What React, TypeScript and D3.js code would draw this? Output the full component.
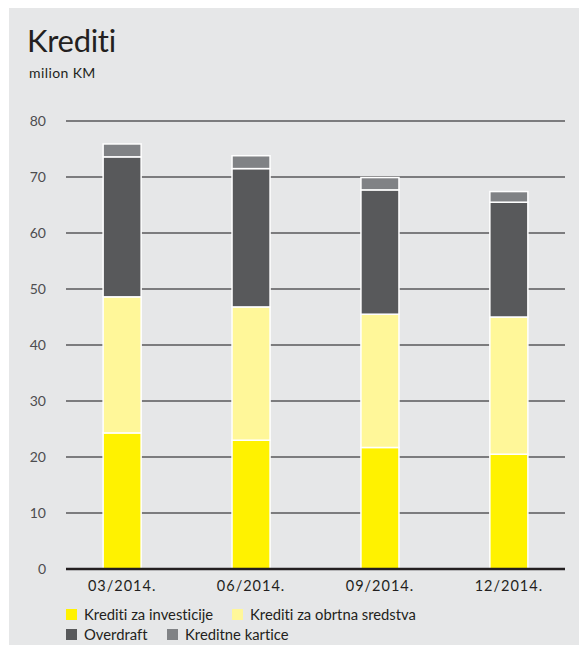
import React from "react";
import * as d3 from "d3";

const periods = ["03/2014.", "06/2014.", "09/2014.", "12/2014."];
const investicije = [24.3, 23.0, 21.7, 20.5];
const obrtnaSredstva = [24.3, 23.8, 23.8, 24.5];
const overdraft = [25.0, 24.7, 22.2, 20.5];
const kartice = [2.3, 2.3, 2.2, 1.9];
const yTicks = [0, 10, 20, 30, 40, 50, 60, 70, 80];

const seriesNames = [
  "Krediti za investicije",
  "Krediti za obrtna sredstva",
  "Overdraft",
  "Kreditne kartice",
];
const colors = ["#fff200", "#fff799", "#58595b", "#808285"];

const W = 579;
const H = 645;
const font = "Lato, 'Open Sans', sans-serif";

export default function App() {
  const rows = periods.map((p, i) => ({
    period: p,
    s0: investicije[i],
    s1: obrtnaSredstva[i],
    s2: overdraft[i],
    s3: kartice[i],
  }));
  const stack = d3.stack<any>().keys(["s0", "s1", "s2", "s3"])(rows);

  const x = d3
    .scaleBand()
    .domain(periods)
    .range([58, 573])
    .paddingInner(0.705)
    .paddingOuter(0.35);
  const y = d3.scaleLinear().domain([0, 80]).range([569, 121]);

  const gridX0 = 66;
  const gridX1 = 565;

  // legend layout: two rows
  const legend = [
    { i: 0, x: 66, y: 609 },
    { i: 1, x: 232, y: 609 },
    { i: 2, x: 66, y: 629 },
    { i: 3, x: 167, y: 629 },
  ];

  return (
    <svg
      width={W}
      height={H}
      style={{ display: "block", position: "absolute", left: 0, top: 0, fontVariantLigatures: "none" }}
    >
      <rect x={9} y={8} width={W - 9} height={H - 8} fill="#e6e7e8" />
      <text x={27} y={52} fontFamily={font} fontSize={31} letterSpacing={-0.3} fill="#231f20">
        Krediti
      </text>
      <text x={29} y={78} fontFamily={font} fontSize={14} letterSpacing={0.4} fill="#231f20">
        milion KM
      </text>

      {yTicks.map((t) => (
        <g key={t}>
          {t > 0 && (
            <line x1={gridX0} x2={gridX1} y1={y(t)} y2={y(t)} stroke="#58595b" strokeWidth={1.4} />
          )}
          <text
            x={46}
            y={y(t)}
            dy="0.35em"
            textAnchor="end"
            fontFamily={font}
            fontSize={14}
            fill="#4d4d4f"
          >
            {t}
          </text>
        </g>
      ))}

      {stack.map((layer, li) =>
        layer.map((d, i) => (
          <rect
            key={li + "-" + i}
            x={x(periods[i])!}
            y={y(d[1])}
            width={x.bandwidth()}
            height={y(d[0]) - y(d[1])}
            fill={colors[li]}
            stroke="#ffffff"
            strokeWidth={1.5}
          />
        ))
      )}

      <line x1={gridX0} x2={gridX1} y1={y(0)} y2={y(0)} stroke="#231f20" strokeWidth={2.5} />

      {periods.map((p) => (
        <text
          key={p}
          x={x(p)! + x.bandwidth() / 2}
          y={591}
          textAnchor="middle"
          fontFamily={font}
          fontSize={14.5}
          letterSpacing={1}
          fill="#231f20"
        >
          {p}
        </text>
      ))}

      {legend.map((l) => (
        <g key={l.i}>
          <rect x={l.x} y={l.y} width={11} height={11} fill={colors[l.i]} />
          <text x={l.x + 18} y={l.y + 11} fontFamily={font} fontSize={14.8} fill="#231f20">
            {seriesNames[l.i]}
          </text>
        </g>
      ))}
    </svg>
  );
}
